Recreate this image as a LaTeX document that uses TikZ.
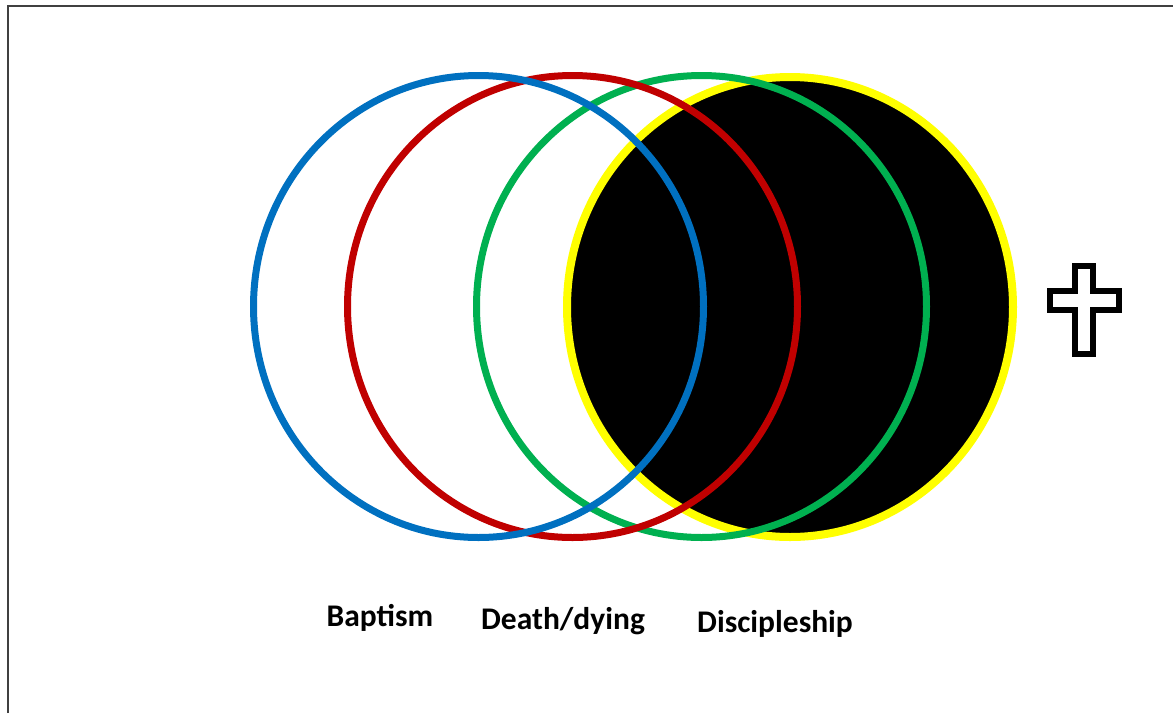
\documentclass[tikz,border=0pt]{standalone}
\usepackage{fontspec}
\setmainfont{Carlito}
\usepackage{tikz}
\usetikzlibrary{positioning,shapes.geometric}
\usepackage{xcolor}
\definecolor{ringblue}{HTML}{0070C0}
\definecolor{ringred}{HTML}{C00000}
\definecolor{ringgreen}{HTML}{00B050}
\definecolor{ringyellow}{HTML}{FFFF00}
\definecolor{frame}{HTML}{404040}

\begin{document}
\begin{tikzpicture}[x=1pt,y=-1pt,
  ring/.style={ellipse,draw,line width=7pt,minimum width=450pt,minimum height=462pt,inner sep=0pt,outer sep=0pt},
  caption/.style={font=\fontsize{31.5}{36}\selectfont\bfseries,inner sep=0pt}]
\useasboundingbox (0,0) rectangle (1173,713);
% frame, cut at the right and bottom
\draw[frame,line width=2pt] (8,713)--(8,6)--(1173,6);
% the four rings
\node[ring,draw=ringyellow,fill=black,line width=8pt,minimum width=446pt,minimum height=460pt] (yellow) at (790,307) {};
\node[ring,draw=ringgreen] (green) at (701.5,306.5) {};
\node[ring,draw=ringred] (red) at (572.5,306.5) {};
\node[ring,draw=ringblue] (blue) at (478.5,306.5) {};
% labels
\node[caption] (baptism) at (380,618) {Baptism};
\node[caption] (death) at (563,621) {Death/dying};
\node[caption] (disciple) at (775,624) {Discipleship};
% cross
\draw[line width=6pt,line join=miter]
  (1075,266)--(1093,266)--(1093,291)--(1119,291)--(1119,310)--(1093,310)
  --(1093,354)--(1075,354)--(1075,310)--(1050,310)--(1050,291)--(1075,291)--cycle;
\end{tikzpicture}
\end{document}
